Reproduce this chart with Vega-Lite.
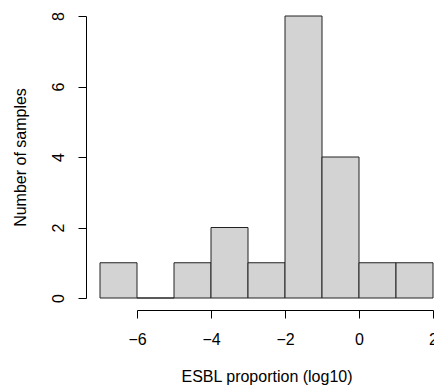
{
  "$schema": "https://vega.github.io/schema/vega-lite/v6.json",
  "width": 333,
  "height": 282,
  "autosize": {"type": "none"},
  "padding": {"left": 100, "top": 16, "right": 1, "bottom": 87},
  "background": "white",
  "config": {
    "view": {"stroke": null},
    "font": "Liberation Sans",
    "axis": {
      "grid": false,
      "domainColor": "black",
      "tickColor": "black",
      "labelColor": "black",
      "titleColor": "black",
      "labelFont": "Liberation Sans",
      "titleFont": "Liberation Sans",
      "labelFontSize": 16,
      "titleFontSize": 16,
      "titleFontWeight": "normal",
      "tickSize": 8,
      "domainWidth": 1,
      "tickWidth": 1
    }
  },
  "data": {
    "values": [
      {"start": -7, "end": -6, "count": 1},
      {"start": -6, "end": -5, "count": 0},
      {"start": -5, "end": -4, "count": 1},
      {"start": -4, "end": -3, "count": 2},
      {"start": -3, "end": -2, "count": 1},
      {"start": -2, "end": -1, "count": 8},
      {"start": -1, "end": 0, "count": 4},
      {"start": 0, "end": 1, "count": 1},
      {"start": 1, "end": 2, "count": 1}
    ]
  },
  "mark": {"type": "rect", "fill": "#d3d3d3", "stroke": "#222222", "strokeWidth": 1},
  "encoding": {
    "x": {
      "field": "start",
      "type": "quantitative",
      "scale": {"domain": [-6, 2], "range": [37, 333], "nice": false, "zero": false},
      "axis": {
        "values": [-6, -4, -2, 0, 2],
        "offset": 12,
        "labelPadding": 13,
        "title": "ESBL proportion (log10)",
        "titleX": 166.5,
        "titleY": 66,
        "titleAlign": "center",
        "titleBaseline": "middle",
        "labelFlush": false,
        "labelOverlap": false
      }
    },
    "x2": {"field": "end"},
    "y": {
      "field": "count",
      "type": "quantitative",
      "scale": {"domain": [0, 8], "nice": false},
      "axis": {
        "values": [0, 2, 4, 6, 8],
        "offset": 14,
        "labelAngle": -90,
        "labelAlign": "center",
        "labelBaseline": "middle",
        "labelPadding": 20,
        "title": "Number of samples",
        "titleX": -66,
        "titleY": 141,
        "titleAngle": -90,
        "titleAlign": "center",
        "titleBaseline": "middle",
        "labelFlush": false,
        "labelOverlap": false
      }
    },
    "y2": {"datum": 0}
  }
}
